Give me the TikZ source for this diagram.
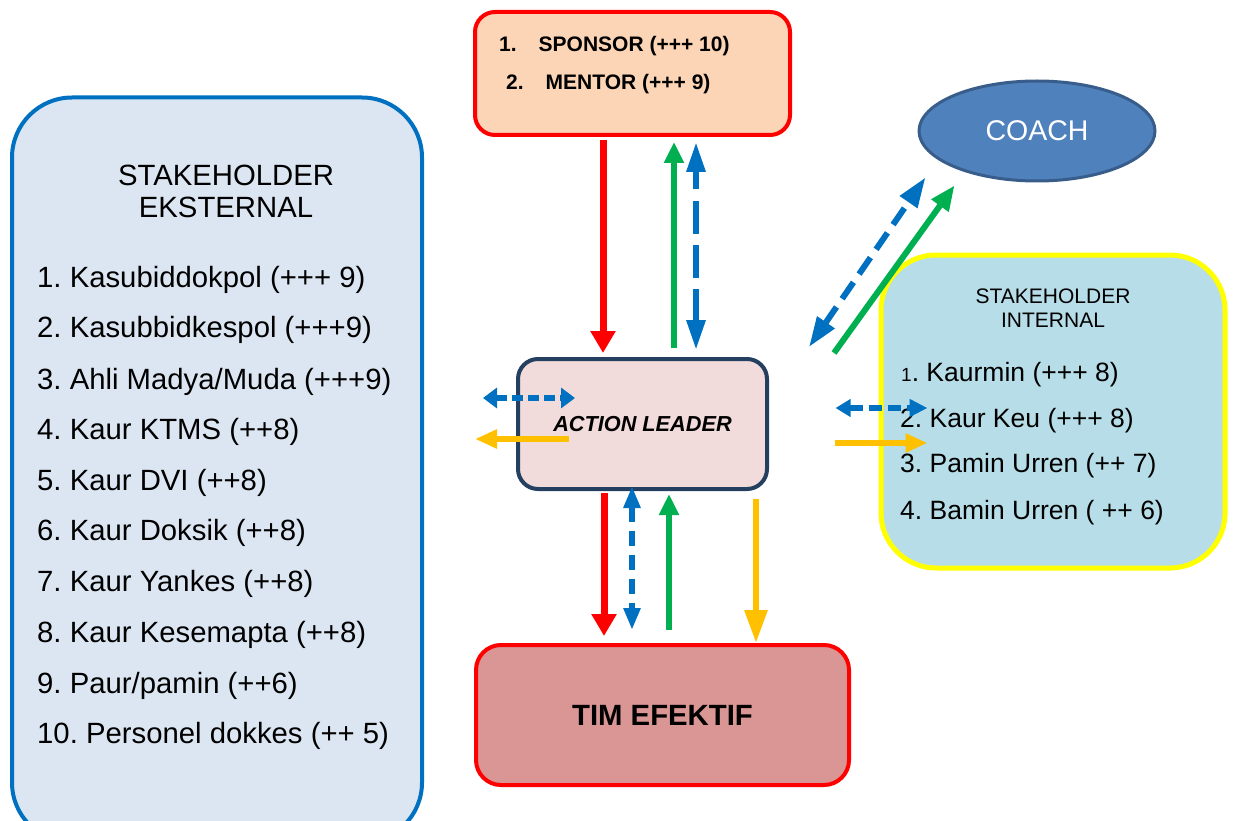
\documentclass[tikz,border=0pt]{standalone}
\usepackage{fontspec}
\setmainfont{Liberation Sans}
\frenchspacing
\usetikzlibrary{arrows.meta,shapes.geometric}

\definecolor{sponsorbg}{HTML}{FBD5B5}
\definecolor{boxred}{HTML}{FF0000}
\definecolor{coachbg}{HTML}{4F81BD}
\definecolor{coachline}{HTML}{385D8A}
\definecolor{extbg}{HTML}{DCE6F2}
\definecolor{extline}{HTML}{0070C0}
\definecolor{intbg}{HTML}{B7DEE8}
\definecolor{intline}{HTML}{FFFF00}
\definecolor{leaderbg}{HTML}{F2DCDB}
\definecolor{leaderline}{HTML}{243F60}
\definecolor{timbg}{HTML}{D99694}
\definecolor{arrred}{HTML}{FF0000}
\definecolor{arrgreen}{HTML}{00B050}
\definecolor{arrblue}{HTML}{0070C0}
\definecolor{arrorange}{HTML}{FFC000}

\tikzset{
  panel/.style={draw, line width=4pt, inner sep=0pt},
  txt/.style={inner sep=0pt, anchor=base west},
  exttxt/.style={txt, font=\fontsize{29.3}{34}\selectfont},
  inttxt/.style={txt, font=\fontsize{26.5}{30}\selectfont},
  sptxt/.style={txt, font=\bfseries\fontsize{21}{25}\selectfont},
  redarr/.style={draw=arrred, line width=7pt, -{Triangle[length=22pt,width=24pt]}},
  greenarr/.style={draw=arrgreen, line width=6pt, -{Triangle[length=21pt,width=19pt]}},
  bluearr/.style={draw=arrblue, line width=6pt},
  orangearr/.style={draw=arrorange, line width=6pt},
}

\begin{document}
\begin{tikzpicture}[x=1pt,y=-1pt]
\clip (0,0) rectangle (1233,821);
% frames
\node [panel, draw=extline, fill=extbg, rounded corners=60pt, minimum width=410pt, minimum height=745pt] (ext) at (217,470) {};
\node [panel, draw=intline, fill=intbg, line width=5pt, rounded corners=55pt, minimum width=344pt, minimum height=313pt] (int) at (1053,411.5) {};
\node [panel, draw=boxred, fill=sponsorbg, rounded corners=20pt, minimum width=315pt, minimum height=123pt] (sponsor) at (632.5,73.5) {};
\node [panel, draw=leaderline, fill=leaderbg, rounded corners=20pt, minimum width=249pt, minimum height=130pt, font=\bfseries\itshape\fontsize{21.7}{25}\selectfont] (leader) at (642.5,424) {ACTION LEADER};
\node [panel, draw=boxred, fill=timbg, rounded corners=25pt, minimum width=373pt, minimum height=140pt, font=\bfseries\fontsize{29.3}{33}\selectfont] (tim) at (662.5,715) {TIM EFEKTIF};
\node [ellipse, draw=coachline, line width=3pt, fill=coachbg, inner sep=0pt, minimum width=236pt, minimum height=100pt, text=white, font=\fontsize{28.5}{33}\selectfont] (coach) at (1037,131) {COACH};

% sponsor text
\node [sptxt] (sp1) at (499,52) {1.\hspace{22pt}SPONSOR (+++ 10)};
\node [sptxt] (sp2) at (506,89.5) {2.\hspace{22pt}MENTOR (+++ 9)};

% external stakeholders
\node [exttxt, anchor=base] (exttitle1) at (226,185.5) {STAKEHOLDER};
\node [exttxt, anchor=base] (exttitle2) at (226,217.5) {EKSTERNAL};
\node [exttxt] (ext1) at (37,287) {1. Kasubiddokpol (+++ 9)};
\node [exttxt] (ext2) at (37,337) {2. Kasubbidkespol (+++9)};
\node [exttxt] (ext3) at (37,389) {3. Ahli Madya/Muda (+++9)};
\node [exttxt] (ext4) at (37,439) {4. Kaur KTMS (++8)};
\node [exttxt] (ext5) at (37,490) {5. Kaur DVI (++8)};
\node [exttxt] (ext6) at (37,540) {6. Kaur Doksik (++8)};
\node [exttxt] (ext7) at (37,591) {7. Kaur Yankes (++8)};
\node [exttxt] (ext8) at (37,642) {8. Kaur Kesemapta (++8)};
\node [exttxt] (ext9) at (37,693) {9. Paur/pamin (++6)};
\node [exttxt] (ext10) at (37,743) {10. Personel dokkes (++ 5)};

% internal stakeholders
\node [txt, anchor=base, font=\fontsize{21}{25}\selectfont] (inttitle1) at (1053,303.5) {STAKEHOLDER};
\node [txt, anchor=base, font=\fontsize{21}{25}\selectfont] (inttitle2) at (1053,327.5) {INTERNAL};
\node [inttxt] (int1) at (901,381.5) {{\fontsize{19}{22}\selectfont 1}. Kaurmin (+++ 8)};
\node [inttxt] (int2) at (900,427.5) {2. Kaur Keu (+++ 8)};
\node [inttxt] (int3) at (900,472.5) {3. Pamin Urren (++ 7)};
\node [inttxt] (int4) at (900,519.5) {4. Bamin Urren ( ++ 6)};

% sponsor <-> leader
\draw [redarr, shorten <=3pt, shorten >=4pt] ([xshift=-39.5pt]leader.north |- sponsor.south) -- ([xshift=-39.5pt]leader.north);
\draw [greenarr, shorten <=9pt, shorten >=5pt] ([xshift=31.5pt]leader.north) -- ([xshift=31.5pt]leader.north |- sponsor.south);
\draw [bluearr, dash pattern=on 33pt off 11pt, {Triangle[length=30pt,width=18pt]}-{Triangle[length=30pt,width=18pt]}, shorten <=7pt, shorten >=5pt] ([xshift=53.5pt]leader.north) -- ([xshift=53.5pt]leader.north |- sponsor.south);

% leader <-> tim
\draw [redarr, shorten <=2pt, shorten >=7pt] ([xshift=-38.5pt]leader.south) -- ([xshift=-38.5pt]leader.south |- tim.north);
\draw [bluearr, dash pattern=on 15pt off 9pt, {Triangle[length=22pt,width=16pt]}-{Triangle[length=22pt,width=16pt]}, shorten <=-5pt, shorten >=13pt] ([xshift=-10.5pt]leader.south) -- ([xshift=-10.5pt]leader.south |- tim.north);
\draw [greenarr, shorten <=13pt, shorten >=3pt] ([xshift=26.5pt]leader.south |- tim.north) -- ([xshift=26.5pt]leader.south);
\draw [orangearr, -{Triangle[length=33pt,width=22pt]}, shorten <=8pt] ([xshift=113.5pt]leader.south) -- ([xshift=113.5pt]leader.south |- tim.north);

% leader <-> external
\draw [bluearr, dash pattern=on 11pt off 5pt, {Triangle[length=14pt,width=20pt]}-{Triangle[length=14pt,width=20pt]}] ([xshift=-33pt,yshift=26pt]leader.west) -- ([xshift=59pt,yshift=26pt]leader.west);
\draw [orangearr, -{Triangle[length=22pt,width=18pt]}] ([xshift=53pt,yshift=-15pt]leader.west) -- ([xshift=-41pt,yshift=-15pt]leader.west);

% leader <-> internal
\draw [bluearr, dash pattern=on 13pt off 6pt, {Triangle[length=15pt,width=17pt]}-{Triangle[length=18pt,width=17pt]}] ([xshift=-43pt,yshift=3.5pt]int.west) -- ([xshift=49pt,yshift=3.5pt]int.west);
\draw [orangearr, -{Triangle[length=22pt,width=18pt]}] ([xshift=-44pt,yshift=-31.5pt]int.west) -- ([xshift=49pt,yshift=-31.5pt]int.west);

% leader <-> coach
\draw [bluearr, dash pattern=on 20pt off 10pt, {Triangle[length=30pt,width=20pt]}-{Triangle[length=30pt,width=20pt]}] ([shift={(40,-10)}]leader.north east) -- ([shift={(-27,10)}]coach.south west);
\draw [greenarr, -{Triangle[length=25pt,width=20pt]}] ([shift={(65,-4)}]leader.north east) -- ([shift={(2,18)}]coach.south west);
\end{tikzpicture}
\end{document}
